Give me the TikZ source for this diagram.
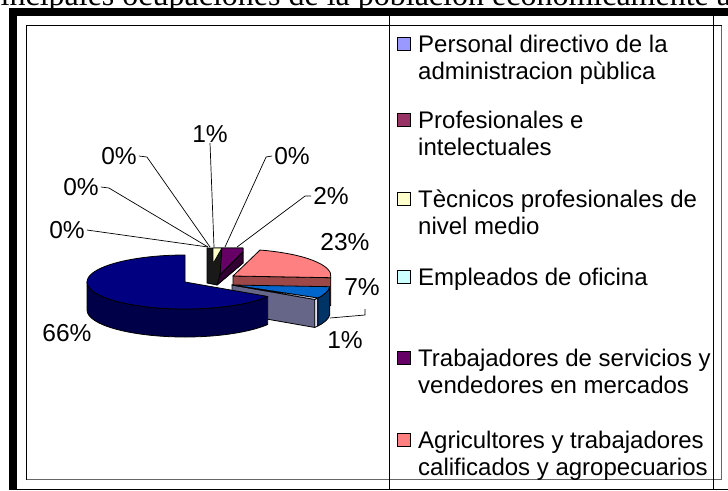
\documentclass[tikz,border=0pt]{standalone}
\usepackage{fontspec}
\setmainfont{Liberation Sans}
\newfontfamily\titlefont{Liberation Serif}
\usetikzlibrary{calc}
\definecolor{navytop}{HTML}{000080}
\definecolor{navyside}{HTML}{000048}
\definecolor{salmon}{HTML}{FF8080}
\definecolor{salmonside}{HTML}{9C4848}
\definecolor{bluetop}{HTML}{0066CC}
\definecolor{blueside}{HTML}{003366}
\definecolor{lilac}{HTML}{DDDDF4}
\definecolor{lilacside}{HTML}{666688}
\definecolor{lavender}{HTML}{9999FF}
\definecolor{maroon}{HTML}{993366}
\definecolor{paleyellow}{HTML}{FFFFCC}
\definecolor{palecyan}{HTML}{CCFFFF}
\definecolor{plum}{HTML}{660066}
\definecolor{plumside}{HTML}{330033}

\begin{document}
\begin{tikzpicture}[x=1pt,y=-1pt,
	pct/.style={font=\fontsize{24.5}{27}\selectfont, inner sep=0pt},
	leader/.style={draw=black, line width=0.7pt},
	legsq/.style={draw=black, line width=1.1pt, minimum size=13pt, inner sep=0pt},
	legtxt/.style={font=\fontsize{24}{27}\selectfont, align=left, inner sep=0pt, anchor=base west},
	face/.style={draw=black, line width=0.8pt, line join=round}]

	\useasboundingbox (0,0) rectangle (728,490);
	\fill[white] (0,0) rectangle (728,490);

	% title line, cut by the page top
	\begin{scope}
		\clip (0,0) rectangle (728,490);
		\node[anchor=base west, inner sep=0pt, font=\titlefont\fontsize{32}{32}\selectfont] (title) at (-28,5) {Principales ocupaciones de la población económicamente activa};
	\end{scope}

	% frame of the page and table
	\fill[black] (9,8) rectangle (728,16);
	\fill[black] (9,8) rectangle (17,490);
	\draw[line width=0.9pt] (26,25) rectangle (721,479);
	\draw[line width=1.3pt, black!60] (27,479.8) -- (721.8,479.8) -- (721.8,26);
	\draw[line width=0.8pt] (389,16) -- (389,489);
	\draw[line width=0.8pt] (713,16) -- (713,489);
	\draw[line width=0.8pt] (17,489) -- (728,489);

	% pie
	\coordinate (N) at (185,282);
	\coordinate (S) at (233,276);
	\coordinate (B) at (232,285);

	\filldraw[face, fill=black!90] (207,248) -- (243,248) -- (243,263) -- (217,285) -- (207,283) -- cycle;
	\filldraw[face, fill=paleyellow] (213,248) -- (222,248) -- (214,262) -- (213,262) -- cycle;
	\filldraw[face, fill=plum] (222,248) -- (243,248) -- (243,252) -- (220,275) -- cycle;
	\filldraw[face, fill=plumside] (220,275) -- (243,252) -- (243,263) -- (217,285) -- cycle;

	\filldraw[face, fill=salmonside] (S) -- ($(S)+(3.6:98 and 27)$) -- ++(0,28) -- ($(S)+(0,28)$) -- cycle;
	\filldraw[face, fill=salmon] (S) -- ($(S)+(-74:98 and 27)$) arc[start angle=-74, end angle=3.6, x radius=98, y radius=27] -- cycle;

	\filldraw[face, fill=lilacside] (B) -- ($(B)+(32.4:98 and 27)$) -- ++(0,28) -- ($(B)+(0,28)$) -- cycle;
	\filldraw[face, fill=lilac] ($(B)+(28.8:98 and 27)$) arc[start angle=28.8, end angle=32.4, x radius=98, y radius=27] -- ++(0,28) arc[start angle=32.4, end angle=28.8, x radius=98, y radius=27] -- cycle;
	\filldraw[face, fill=blueside] ($(B)+(3.6:98 and 27)$) arc[start angle=3.6, end angle=28.8, x radius=98, y radius=27] -- ++(0,28) arc[start angle=28.8, end angle=3.6, x radius=98, y radius=27] -- cycle;
	\filldraw[face, fill=bluetop] (B) -- ($(B)+(3.6:98 and 27)$) arc[start angle=3.6, end angle=28.8, x radius=98, y radius=27] -- cycle;
	\filldraw[face, fill=lilac] (B) -- ($(B)+(28.8:98 and 27)$) arc[start angle=28.8, end angle=32.4, x radius=98, y radius=27] -- cycle;

	\filldraw[face, fill=navyside] ($(N)+(32.4:98 and 27)$) arc[start angle=32.4, end angle=180, x radius=98, y radius=27] -- ++(0,28) arc[start angle=180, end angle=32.4, x radius=98, y radius=27] -- cycle;
	\filldraw[face, fill=navytop] (N) -- ($(N)+(32.4:98 and 27)$) arc[start angle=32.4, end angle=270, x radius=98, y radius=27] -- cycle;

	% percentages
	\node[pct] (z1) at (67,230) {0\%};
	\node[pct] (z2) at (81,187) {0\%};
	\node[pct] (z3) at (119,156) {0\%};
	\node[pct] (u1) at (210,134) {1\%};
	\node[pct] (z4) at (292,156) {0\%};
	\node[pct] (d2) at (331,196) {2\%};
	\node[pct] (v23) at (345,242) {23\%};
	\node[pct] (s7) at (362,287) {7\%};
	\node[pct] (u2) at (345,340) {1\%};
	\node[pct] (s66) at (67,333) {66\%};

	\coordinate (p1) at (208,247);
	\coordinate (p2) at (208,247);
	\coordinate (p3) at (210,247);
	\coordinate (p4) at (214,247);
	\coordinate (p5) at (225,247);
	\coordinate (p6) at (237,247);
	\coordinate (q0) at (365,309);
	\coordinate (q1) at (330,318);

	\draw[leader] ([xshift=2pt]z1.east) -- (p1);
	\draw[leader] ([xshift=2pt]z2.east) -- ++(8,1) -- (p2);
	\draw[leader] ([xshift=2pt]z3.east) -- ++(8,1) -- (p3);
	\draw[leader] (u1.south) -- (p4);
	\draw[leader] ([xshift=-2pt]z4.west) -- ++(-6,1) -- (p5);
	\draw[leader] ([xshift=-2pt]d2.west) -- ++(-6,0) -- (p6);
	\draw[leader] (q0) -- ++(0,6) -- (q1);

	% legend (base is the last line)
	\node[legsq, fill=lavender] (k1) at (404,44) {};
	\node[legtxt] (t1) at (418,79) {Personal directivo de la\\administracion pùblica};
	\node[legsq, fill=maroon] (k2) at (404,120) {};
	\node[legtxt] (t2) at (418,155) {Profesionales e\\intelectuales};
	\node[legsq, fill=paleyellow] (k3) at (404,199) {};
	\node[legtxt] (t3) at (418,234) {Tècnicos profesionales de\\nivel medio};
	\node[legsq, fill=palecyan] (k4) at (404,277) {};
	\node[legtxt] (t4) at (418,285) {Empleados de oficina};
	\node[legsq, fill=plum] (k5) at (404,358) {};
	\node[legtxt] (t5) at (418,393) {Trabajadores de servicios y\\vendedores en mercados};
	\node[legsq, fill=salmon] (k6) at (404,440) {};
	\node[legtxt] (t6) at (418,475) {Agricultores y trabajadores\\calificados y agropecuarios};
\end{tikzpicture}
\end{document}
